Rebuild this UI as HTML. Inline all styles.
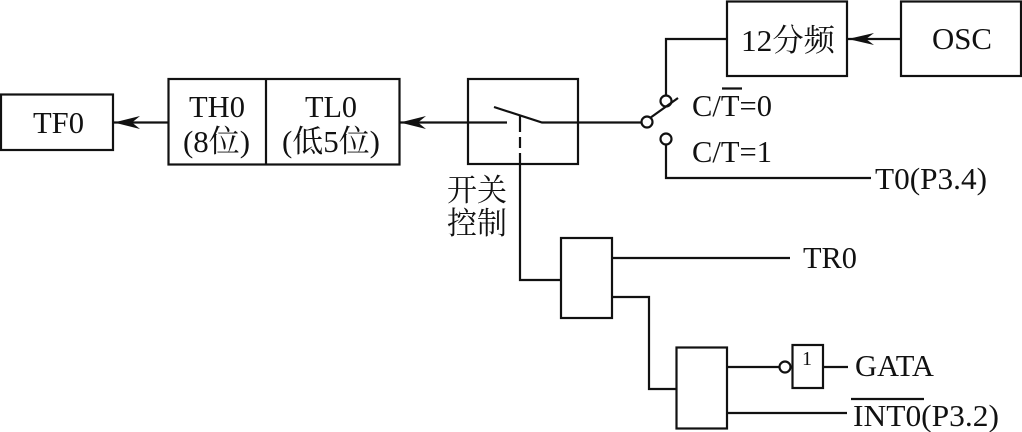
<!DOCTYPE html>
<html>
<head>
<meta charset="utf-8">
<style>
html,body{margin:0;padding:0;background:#fff;width:1022px;height:432px;overflow:hidden}
svg{display:block}
text{font-family:"Liberation Serif","Noto Serif CJK SC",serif;fill:#111;font-size:31px}
.l{fill:none;stroke:#111;stroke-width:2.200}
</style>
</head>
<body>
<svg width="1022" height="432" viewBox="0 0 1022 432" xmlns="http://www.w3.org/2000/svg">
<!-- boxes -->
<rect class="l" x="727" y="1.500" width="120" height="74.500"/>
<rect class="l" x="901" y="1.500" width="120" height="74.500"/>
<rect class="l" x="468" y="79" width="110" height="85"/>
<rect class="l" x="1" y="94.500" width="112" height="55.500"/>
<rect class="l" x="168.500" y="79" width="231" height="85.500"/>
<path class="l" d="M266 79V164.500"/>
<rect class="l" x="561" y="238" width="51" height="80"/>
<rect class="l" x="676.500" y="347.500" width="50.500" height="81"/>
<rect class="l" x="792.500" y="345" width="30.500" height="43"/>
<!-- connectors -->
<path class="l" d="M901 39H848"/>
<path d="M848 39L874 33L866 39L874 45Z" fill="#111"/>
<path class="l" d="M727 39H666V96"/>
<path class="l" d="M650 118L678 98"/>
<circle class="l" cx="666" cy="101" r="5.500" fill="#fff"/>
<circle class="l" cx="647" cy="122" r="5.500" fill="#fff"/>
<circle class="l" cx="666" cy="139" r="5.500" fill="#fff"/>
<path class="l" d="M666 144V178H871"/>
<path class="l" d="M642 122.500H542L494 107"/>
<path class="l" d="M507 122.500H400"/>
<path d="M400 122.500L426 116L418 122.500L426 129Z" fill="#111"/>
<path class="l" d="M168 122.500H114"/>
<path d="M114 122.500L140 116L132 122.500L140 129Z" fill="#111"/>
<path class="l" d="M520 116V132M520 137V148M520 153V280H561"/>
<path class="l" d="M612 258H790"/>
<path class="l" d="M612 297H649V389H676"/>
<path class="l" d="M727 367H780"/>
<circle class="l" cx="785" cy="367" r="5.500" fill="#fff"/>
<path class="l" d="M823 367H848"/>
<path class="l" d="M727 413H847"/>
<path class="l" d="M851 399H924"/>
<path class="l" d="M722 88.500H742"/>
<!-- labels -->
<text x="741" y="51" textLength="94" lengthAdjust="spacingAndGlyphs">12分频</text>
<text x="932" y="49" textLength="60" lengthAdjust="spacingAndGlyphs">OSC</text>
<text x="692" y="116" textLength="80" lengthAdjust="spacingAndGlyphs">C/T=0</text>
<text x="692" y="162" textLength="80" lengthAdjust="spacingAndGlyphs">C/T=1</text>
<text x="875" y="189" textLength="112" lengthAdjust="spacingAndGlyphs">T0(P3.4)</text>
<text x="33" y="133" textLength="51" lengthAdjust="spacingAndGlyphs">TF0</text>
<text x="189" y="117" textLength="56" lengthAdjust="spacingAndGlyphs">TH0</text>
<text x="183" y="152" textLength="67" lengthAdjust="spacingAndGlyphs">(8位)</text>
<text x="305" y="117" textLength="52" lengthAdjust="spacingAndGlyphs">TL0</text>
<text x="282" y="152" textLength="98" lengthAdjust="spacingAndGlyphs">(低5位)</text>
<text x="447" y="201" textLength="60" lengthAdjust="spacingAndGlyphs">开关</text>
<text x="447" y="234" textLength="60" lengthAdjust="spacingAndGlyphs">控制</text>
<text x="803" y="268" textLength="54" lengthAdjust="spacingAndGlyphs">TR0</text>
<text x="802" y="365" style="font-size:20px">1</text>
<text x="855" y="376" textLength="79" lengthAdjust="spacingAndGlyphs">GATA</text>
<text x="853" y="426" textLength="146" lengthAdjust="spacingAndGlyphs">INT0(P3.2)</text>
</svg>
</body>
</html>
